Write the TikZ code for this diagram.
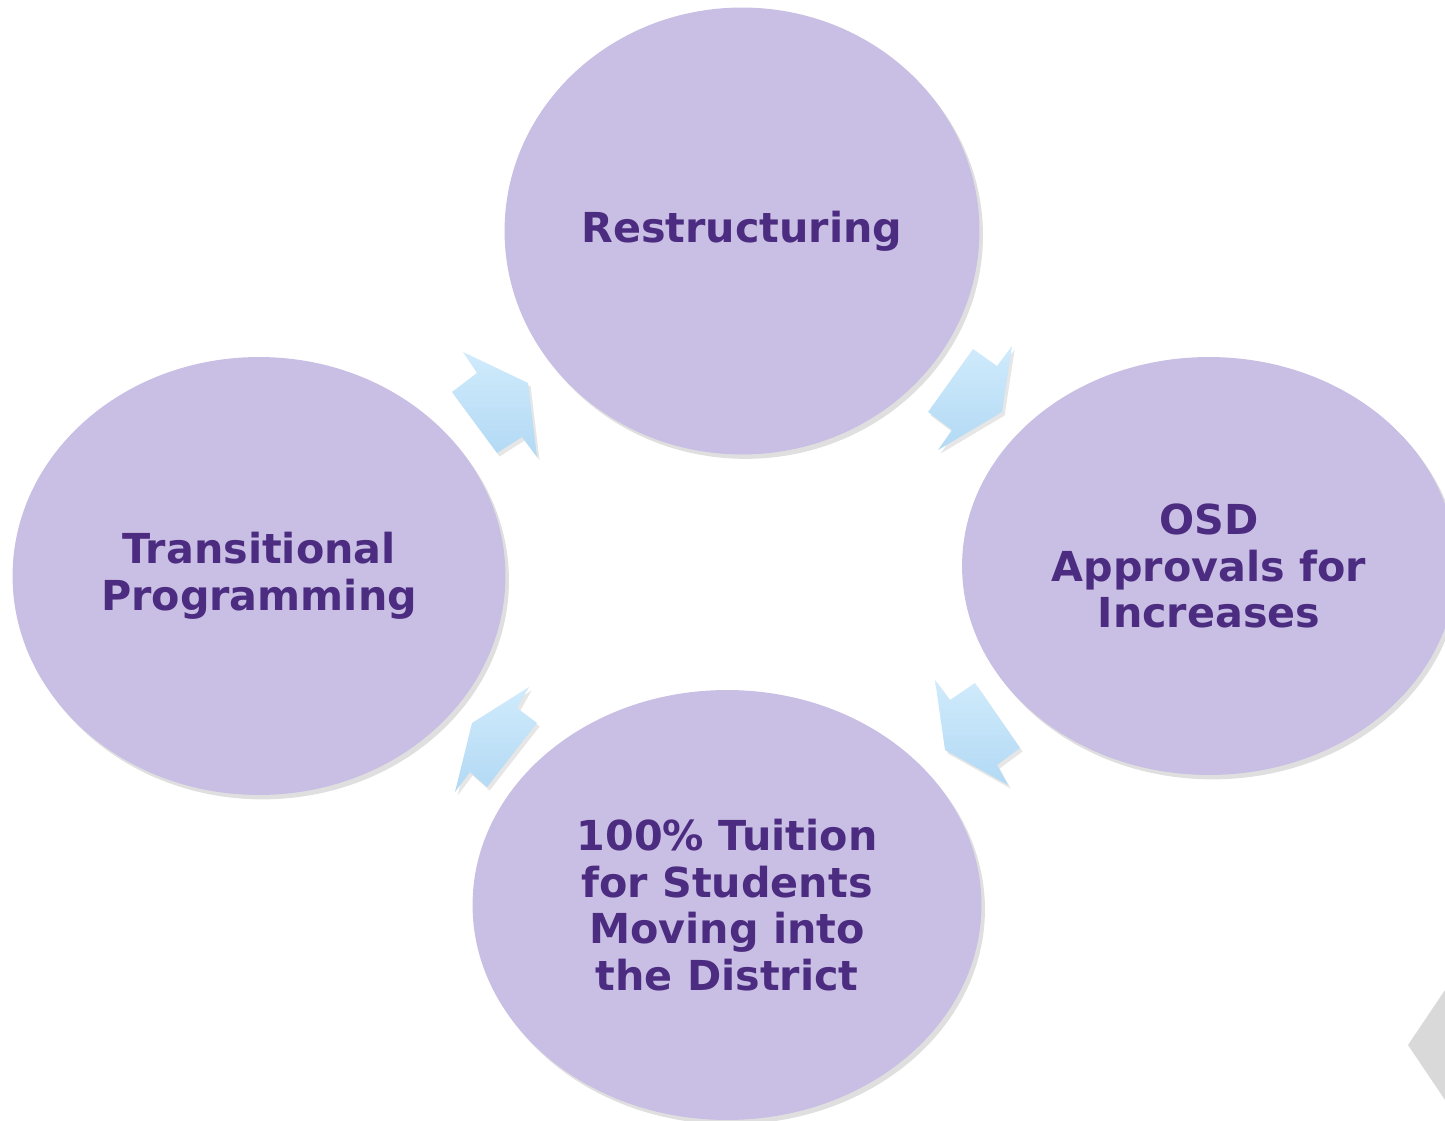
\documentclass[tikz,border=0pt]{standalone}
\usepackage{fontspec}
\setmainfont{DejaVu Sans}
\usepackage{xcolor}
\usetikzlibrary{shapes.geometric,shadows}
\definecolor{lilac}{HTML}{C9BEE3}
\definecolor{plum}{HTML}{4B2C80}
\definecolor{skyA}{HTML}{D0EBFC}
\definecolor{skyB}{HTML}{B2D9F4}
\definecolor{tabgray}{HTML}{D9D9D9}
\tikzset{
		stage/.style={ellipse,fill=lilac,inner sep=0pt,align=center,text=plum,
			font=\fontsize{23.5}{26.5}\selectfont\bfseries,
			drop shadow={opacity=0.25,shadow xshift=2pt,shadow yshift=-2.5pt}},
		cyclearrow/.style={top color=skyA,bottom color=skyB,
			drop shadow={opacity=0.2,shadow xshift=1.5pt,shadow yshift=-2pt}}
	}

\begin{document}
\begin{tikzpicture}[x=0.02cm,y=-0.02cm]
          \useasboundingbox (0,0) rectangle (1445,1121);
          \clip (0,0) rectangle (1445,1121);

          % the four stages
          \node[stage,minimum width=9.5cm,minimum height=8.94cm] (restr) at (742,231) {Restructuring};
          \node[stage,minimum width=9.88cm,minimum height=8.36cm] (osd) at (1209,566) {OSD\\Approvals for\\Increases};
          \node[stage,minimum width=10.18cm,minimum height=8.6cm] (tuition) at (727,905) {100\% Tuition\\for Students\\Moving into\\the District};
          \node[stage,minimum width=9.86cm,minimum height=8.76cm] (trans) at (259,576) {Transitional\\Programming};

          % arrows between the stages
          \path[cyclearrow] (463,352) -- (528,383) -- (537,457) -- (522,437) -- (497,453) -- (452,392) -- (477,373) -- cycle;
          \path[cyclearrow] (973,349) -- (997,366) -- (1012,346) -- (1002,412) -- (938,450) -- (952,430) -- (928,412) -- cycle;
          \path[cyclearrow] (935,680) -- (950,700) -- (975,683) -- (1020,748) -- (997,765) -- (1008,785) -- (945,750) -- cycle;
          \path[cyclearrow] (529,687) -- (517,708) -- (537,723) -- (487,787) -- (470,772) -- (455,792) -- (472,723) -- cycle;

          % grey tab at the corner
          \fill[tabgray] (1445,990) -- (1408,1045) -- (1445,1100) -- cycle;
\end{tikzpicture}
\end{document}
